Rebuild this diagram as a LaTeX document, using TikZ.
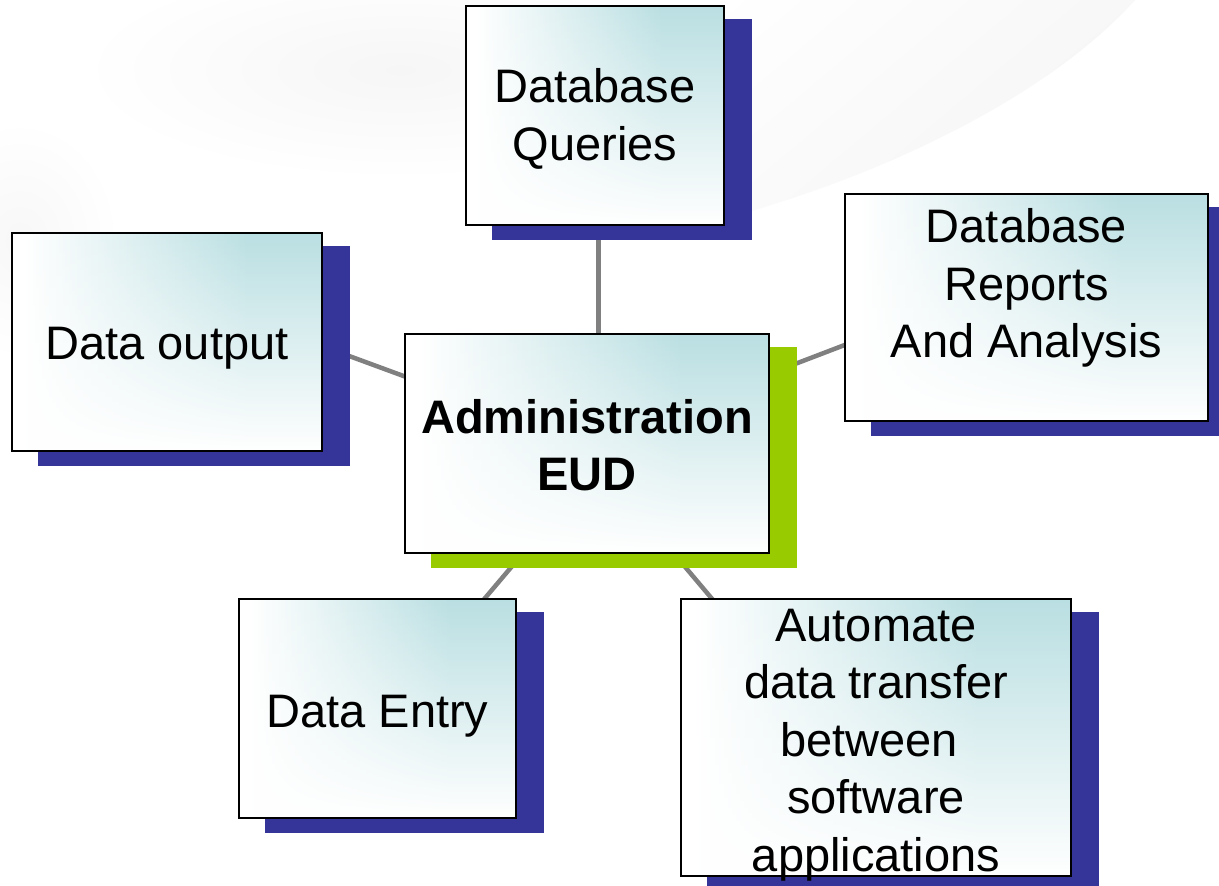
\documentclass[tikz,border=0pt]{standalone}
\usepackage{fontspec}
\setmainfont{Liberation Sans}
\usetikzlibrary{fadings}

\definecolor{boxteal}{RGB}{186,223,226}
\definecolor{navyshade}{RGB}{53,53,153}
\definecolor{limeshade}{RGB}{153,204,0}
\definecolor{linkgrey}{RGB}{128,128,128}

% white on the left, teal towards the right edge
\pgfdeclarehorizontalshading{boxwash}{100bp}{color(0bp)=(white); color(27bp)=(white); color(63bp)=(boxteal); color(100bp)=(boxteal)}
% opaque at the bottom, clear at the top
\tikzfading[name=fadeup, top color=transparent!100, middle color=transparent!72, bottom color=transparent!0]

\pgfdeclarelayer{wash}
\pgfdeclarelayer{under}
\pgfsetlayers{wash,under,main}

\tikzset{
  card/.style={draw=black, line width=2.2pt, inner sep=0pt, align=center,
    font=\fontsize{47}{57.5}\selectfont,
    path picture={
      \shade[shading=boxwash] (path picture bounding box.south west) rectangle (path picture bounding box.north east);
      \fill[white, path fading=fadeup] (path picture bounding box.south west) rectangle (path picture bounding box.north east);
    }},
  link/.style={draw=linkgrey, line width=4.5pt},
  backing/.style={fill=#1},
}

% centred lines of a card, lowered by #1 without changing the card size
\newcommand{\cardlines}[2]{%
  \raisebox{-#1}[\height][\depth]{\begin{tabular}{@{}c@{}}#2\end{tabular}}}

\newcommand{\cardshadow}[2]{%
  \fill[backing=#2] ([shift={(27,14)}]#1.north west) rectangle ([shift={(27,14)}]#1.south east);}

\begin{document}
\begin{tikzpicture}[x=1pt, y=-1pt]
\useasboundingbox (0,0) rectangle (1219,886);

% page and faint backdrop swirls
\begin{pgfonlayer}{wash}
  \fill[white] (0,0) rectangle (1219,886);
  \shade[inner color=gray!7, outer color=white] (400,70) ellipse (320 and 110);
  \shade[top color=white, bottom color=gray!8, shading angle=40]
    (700,225) .. controls (880,180) and (1050,95) .. (1135,0) -- (600,0) -- (600,225) -- cycle;
  \shade[inner color=gray!6, outer color=white] (20,240) ellipse (100 and 120);
\end{pgfonlayer}

% boxes
\node[card, minimum width=364, minimum height=219] (admin) at (587,443.5)
  {\bfseries\cardlines{7pt}{Administration\\EUD}};
\node[card, minimum width=258, minimum height=219] (dq) at (595,115.5)
  {\cardlines{4.5pt}{Database\\Queries}};
\node[card, minimum width=310, minimum height=218] (dout) at (167,342)
  {\cardlines{5.5pt}{Data output}};
\node[card, minimum width=363, minimum height=227] (drep) at (1026.5,307.5)
  {\cardlines{-19pt}{Database\\Reports\\And Analysis}};
\node[card, minimum width=277, minimum height=219] (dentry) at (377.5,708.5)
  {\cardlines{7pt}{Data Entry}};
\node[card, minimum width=390, minimum height=277, inner ysep=-20pt] (auto) at (876,737.5)
  {\cardlines{7pt}{Automate\\data transfer\\between\kern14pt\\software\\applications}};

% connectors and drop shadows behind the boxes
\begin{pgfonlayer}{under}
  \draw[link] ([xshift=3.5pt]dq.center) -- ([xshift=3.5pt]dq.center |- admin.center);
  \draw[link] (admin.center) -- ([shift={(0,-53)}]dout.center);
  \draw[link] (admin.center) -- ([shift={(0,-32)}]drep.center);
  \draw[link] ([shift={(29,0)}]admin.center) -- ([shift={(14,0)}]dentry.center);
  \draw[link] ([shift={(-6,0)}]admin.center) -- ([shift={(-47,0)}]auto.center);
  \cardshadow{dq}{navyshade}
  \cardshadow{dout}{navyshade}
  \cardshadow{drep}{navyshade}
  \cardshadow{dentry}{navyshade}
  \cardshadow{auto}{navyshade}
  \cardshadow{admin}{limeshade}
\end{pgfonlayer}
\end{tikzpicture}
\end{document}
